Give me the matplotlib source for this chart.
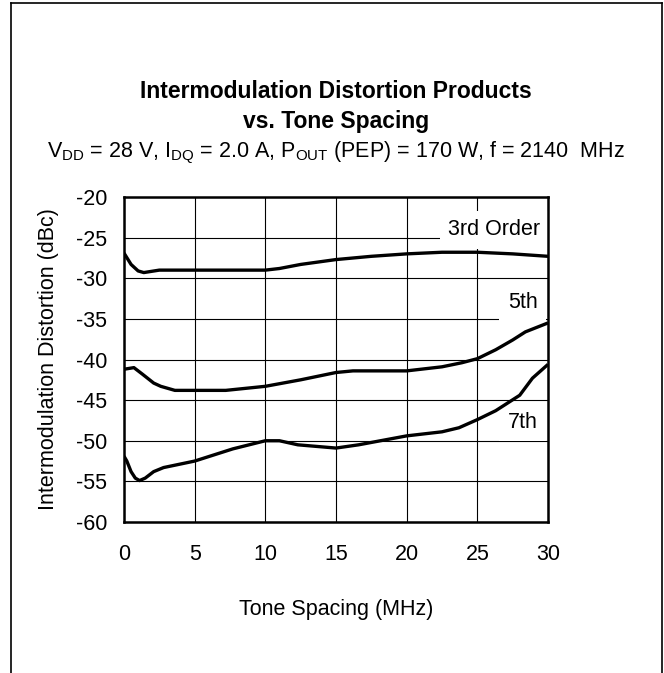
import matplotlib
matplotlib.use("Agg")
import matplotlib.pyplot as plt
from matplotlib.lines import Line2D

plt.rcParams["font.family"] = ["Liberation Sans", "DejaVu Sans"]
plt.rcParams["mathtext.fontset"] = "custom"
plt.rcParams["mathtext.rm"] = "Liberation Sans"
plt.rcParams["mathtext.it"] = "Liberation Sans"
plt.rcParams["axes.unicode_minus"] = False

# (tone spacing MHz, IMD dBc)
x3 = [0, 0.5, 1.0, 1.4, 2.5, 5, 7.5, 10, 11, 12.5, 15, 17.5, 20, 22.5, 25, 27.5, 30]
y3 = [-26.9, -28.3, -29.1, -29.3, -29.0, -29.0, -29.0, -29.0, -28.8, -28.3, -27.7, -27.3, -27.0, -26.8, -26.8, -27.0, -27.3]

x5 = [0, 0.7, 1.3, 2.1, 2.6, 3.6, 5, 7.2, 10, 12.5, 15, 16.2, 20, 22.5, 23.9, 25, 26.3, 27.5, 28.4, 30]
y5 = [-41.2, -41.0, -41.8, -42.9, -43.3, -43.8, -43.8, -43.8, -43.3, -42.5, -41.6, -41.4, -41.4, -40.9, -40.4, -39.9, -38.8, -37.6, -36.6, -35.5]

x7 = [0, 0.2, 0.5, 0.8, 1.1, 1.5, 2.1, 2.8, 5, 7.7, 10, 11, 12.3, 15, 16.6, 20, 22.5, 23.7, 25, 26.3, 28, 28.9, 30]
y7 = [-51.9, -52.5, -53.8, -54.6, -54.9, -54.6, -53.8, -53.3, -52.5, -51.0, -50.0, -50.0, -50.5, -50.9, -50.5, -49.4, -48.9, -48.4, -47.4, -46.3, -44.4, -42.3, -40.6]

labels = ["3rd Order", "5th", "7th"]
label_x = [26.2, 28.2, 28.2]
label_y = [-24.7, -33.7, -48.4]

xticks = [0, 5, 10, 15, 20, 25, 30]
yticks = [-60, -55, -50, -45, -40, -35, -30, -25, -20]

W, H = 664, 673
fig = plt.figure(figsize=(W / 100, H / 100), dpi=100)
ax = fig.add_axes([124 / W, 1 - 522 / H, (548 - 124) / W, (522 - 197) / H])

for xs, ys in [(x3, y3), (x5, y5), (x7, y7)]:
    ax.plot(xs, ys, color="black", lw=2.4, solid_joinstyle="round", solid_capstyle="butt", zorder=4)

ax.set_xlim(0, 30)
ax.set_ylim(-60, -20)
ax.set_xticks(xticks)
ax.set_yticks(yticks)
ax.tick_params(length=0, labelsize=15.5, pad=12)
ax.tick_params(axis="x", pad=16)
ax.grid(True, color="black", lw=0.8)
ax.set_axisbelow(True)
for s in ax.spines.values():
    s.set_linewidth(1.8)
    s.set_zorder(6)

for t, lx, ly in zip(labels, label_x, label_y):
    ax.text(lx, ly, t, ha="center", va="baseline", fontsize=15.5, zorder=3,
            bbox=dict(boxstyle="square,pad=0.4", fc="white", ec="none"))

ax.set_xlabel("Tone Spacing (MHz)", fontsize=15.5, labelpad=24)
ax.set_ylabel("Intermodulation Distortion (dBc)", fontsize=15.5, labelpad=12)

fig.text(336 / W, 1 - 98 / H, "Intermodulation Distortion Products", ha="center", va="baseline",
         fontsize=16.5, fontweight="bold")
fig.text(336 / W, 1 - 128 / H, "vs. Tone Spacing", ha="center", va="baseline",
         fontsize=16.5, fontweight="bold")
sub = (r"V$_{\mathregular{DD}}$ = 28 V, I$_{\mathregular{DQ}}$ = 2.0 A, "
       r"P$_{\mathregular{OUT}}$ (PEP) = 170 W, f = 2140  MHz")
fig.text(336 / W, 1 - 157 / H, sub, ha="center", va="baseline", fontsize=15.5)

# outer frame (open at the bottom)
for xs, ys in [([11 / W, 11 / W], [0, 1 - 3 / H]),
               ([11 / W, 662 / W], [1 - 3 / H, 1 - 3 / H]),
               ([662 / W, 662 / W], [1 - 3 / H, 0])]:
    fig.add_artist(Line2D(xs, ys, color="black", lw=1.2))

fig.savefig("out.png", dpi=100)
